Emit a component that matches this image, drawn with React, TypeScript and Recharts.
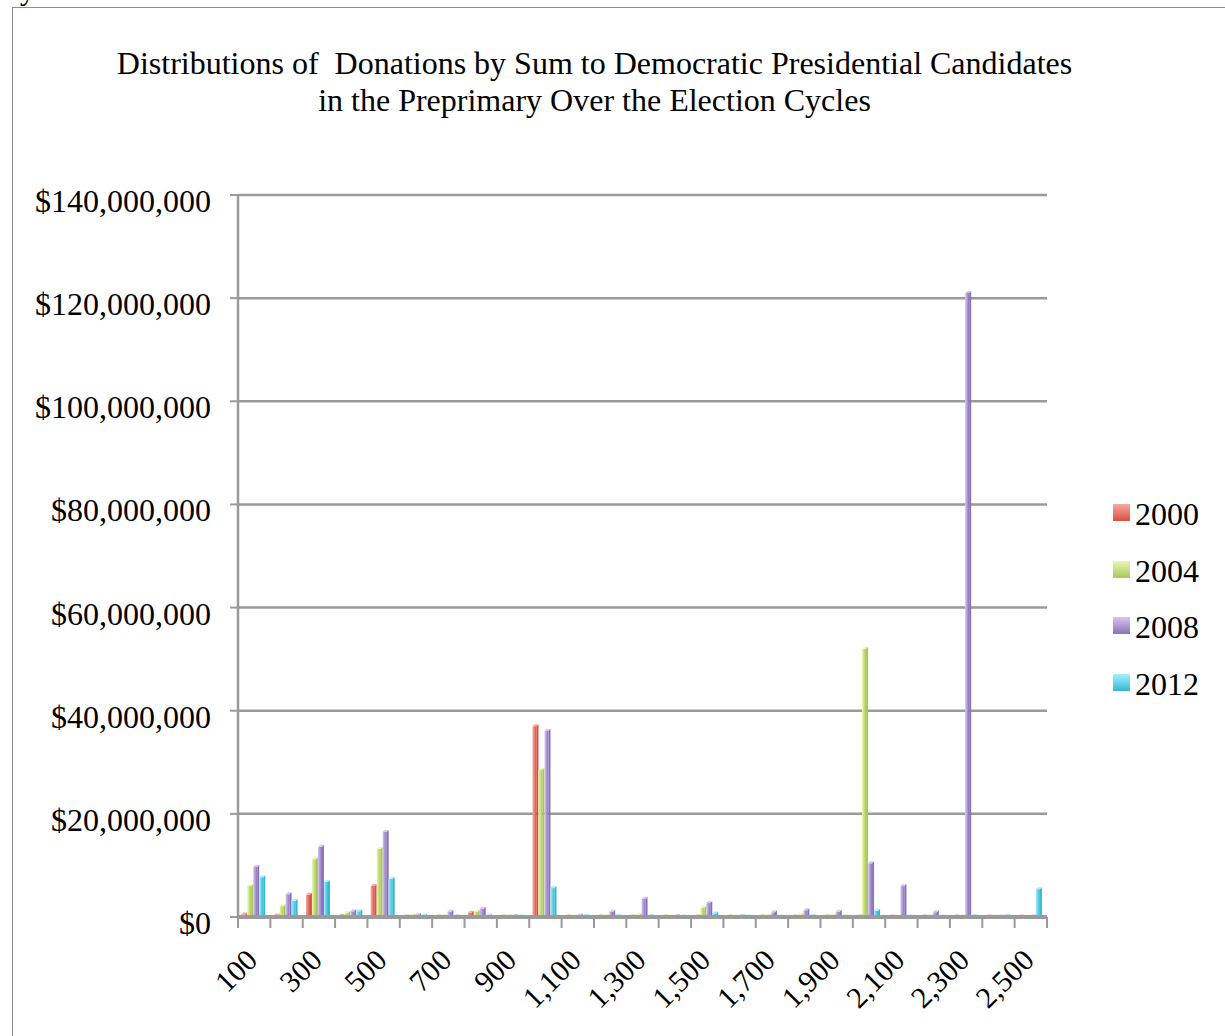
import React from "react";
import { BarChart, Bar, XAxis, YAxis, CartesianGrid } from "recharts";

// donation sum buckets ($)
const buckets = [
  100, 200, 300, 400, 500, 600, 700, 800, 900, 1000, 1100, 1200, 1300,
  1400, 1500, 1600, 1700, 1800, 1900, 2000, 2100, 2200, 2300, 2400, 2500,
];

// totals per bucket, in millions of dollars
const cycle2000 = [
  0.5, 0.3, 4.3, 0.2, 6.0, 0.1, 0.1, 0.8, 0.1, 37.0, 0.05, 0, 0, 0, 0, 0,
  0, 0, 0, 0, 0, 0, 0, 0, 0,
];
const cycle2004 = [
  6.0, 2.1, 11.2, 0.8, 13.2, 0.3, 0.2, 1.0, 0.2, 28.5, 0.1, 0.2, 0.4, 0.1,
  1.8, 0.1, 0.2, 0.4, 0.3, 52.0, 0.1, 0.1, 0.1, 0, 0,
];
const cycle2008 = [
  9.7, 4.4, 13.6, 1.1, 16.5, 0.4, 1.0, 1.6, 0.2, 36.1, 0.3, 1.0, 3.5, 0.2,
  2.7, 0.2, 0.9, 1.3, 1.0, 10.4, 6.0, 0.9, 121.0, 0.1, 0.1,
];
const cycle2012 = [
  7.7, 3.1, 6.8, 1.1, 7.4, 0.3, 0.2, 0.3, 0.1, 5.6, 0.2, 0.2, 0.2, 0.1,
  0.7, 0.1, 0.1, 0.2, 0.1, 1.2, 0.1, 0.1, 0.2, 0.2, 5.4,
];

const yTicks = [0, 20, 40, 60, 80, 100, 120, 140];

const SERIES = [
  { key: "y2000", name: "2000", values: cycle2000, light: "#f7aaa1", dark: "#d9503f" },
  { key: "y2004", name: "2004", values: cycle2004, light: "#e8f8b0", dark: "#a9c75a" },
  { key: "y2008", name: "2008", values: cycle2008, light: "#d6c6f0", dark: "#8a72bb" },
  { key: "y2012", name: "2012", values: cycle2012, light: "#a8f0fc", dark: "#32b8d3" },
];

const rows = buckets.map((b, i) => {
  const row: Record<string, number> = { bucket: b };
  SERIES.forEach((s) => (row[s.key] = s.values[i]));
  return row;
});

const W = 1225;
const H = 1036;
const MARGIN = { top: 195, right: 178, bottom: 19, left: 0 };
const Y_AXIS_W = 238;
const X_AXIS_H = 100;
const PLOT_W = W - MARGIN.left - MARGIN.right - Y_AXIS_W;
const BAND = PLOT_W / buckets.length;

const FONT = "Liberation Serif, Times New Roman, serif";
const GRID = "#9a9a9a";

const money = (v: number) => "$" + Math.round(v * 1e6).toLocaleString("en-US");

// bucket ticks sit on the boundaries; labels on every other bucket
function BucketTick(props: any) {
  const { x, y, payload, index } = props;
  const left = x - BAND / 2;
  const lastIdx = buckets.length - 1;
  const ax = x + 5;
  const ay = y + 45;
  return (
    <g>
      <line x1={left} x2={left} y1={y} y2={y + 11} stroke={GRID} strokeWidth={2} />
      {index === lastIdx && (
        <line x1={x + BAND / 2} x2={x + BAND / 2} y1={y} y2={y + 11} stroke={GRID} strokeWidth={2} />
      )}
      {index % 2 === 0 && (
        <text
          x={ax}
          y={ay}
          transform={`rotate(-45, ${ax}, ${ay})`}
          textAnchor="end"
          fontFamily={FONT}
          fontSize={30}
          fill="#000"
        >
          {payload.value.toLocaleString("en-US")}
        </text>
      )}
    </g>
  );
}

function MoneyTick(props: any) {
  const { x, y, payload } = props;
  return (
    <text x={x} y={y} dy={17} textAnchor="end" fontFamily={FONT} fontSize={32} fill="#000">
      {money(payload.value)}
    </text>
  );
}

// flat bar with a thin side and top face
function Bar3D(props: any) {
  const { x, y, width, height, light, dark, gid } = props;
  if (width == null || height == null || height < 0) return null;
  const d = 2;
  const w = width - d;
  const h = Math.max(height, 0.6);
  const top = y + height - h;
  return (
    <g>
      <rect x={x} y={top} width={w} height={h} fill={`url(#${gid})`} />
      <polygon
        points={`${x + w},${top} ${x + w + d},${top - d} ${x + w + d},${top + h - d} ${x + w},${top + h}`}
        fill={dark}
      />
      <polygon
        points={`${x},${top} ${x + d},${top - d} ${x + w + d},${top - d} ${x + w},${top}`}
        fill={light}
      />
    </g>
  );
}

export default function App() {
  return (
    <div
      style={{
        position: "absolute",
        left: 0,
        top: 0,
        width: W,
        height: H,
        overflow: "hidden",
        background: "#fff",
        fontFamily: FONT,
      }}
    >
      <div style={{ position: "absolute", left: 0, top: -25, fontSize: 30, lineHeight: "30px" }}>Cycles</div>
      <div
        style={{
          position: "absolute",
          left: 12,
          top: 7,
          width: W + 50,
          height: H + 50,
          border: "1.5px solid #8c8c8c",
        }}
      />
      <div
        style={{
          position: "absolute",
          left: 0,
          top: 45,
          width: 1189,
          textAlign: "center",
          fontSize: 32,
          lineHeight: "37px",
          color: "#000",
        }}
      >
        Distributions of&nbsp; Donations by Sum to Democratic Presidential Candidates
        <br />
        in the Preprimary Over the Election Cycles
      </div>

      <div style={{ position: "absolute", left: 0, top: 0 }}>
        <BarChart
          width={W}
          height={H}
          data={rows}
          margin={MARGIN}
          barCategoryGap="10%"
          barGap={0}
        >
          <defs>
            {SERIES.map((s) => (
              <linearGradient key={s.key} id={`g${s.key}`} x1="0" y1="0" x2="1" y2="0">
                <stop offset="0%" stopColor={s.light} />
                <stop offset="100%" stopColor={s.dark} />
              </linearGradient>
            ))}
          </defs>
          <CartesianGrid vertical={false} stroke={GRID} strokeWidth={2.5} />
          <XAxis
            dataKey="bucket"
            interval={0}
            height={X_AXIS_H}
            tickSize={0}
            tickMargin={0}
            tickLine={false}
            axisLine={{ stroke: GRID, strokeWidth: 4 }}
            tick={<BucketTick />}
          />
          <YAxis
            domain={[0, 140]}
            ticks={yTicks}
            width={Y_AXIS_W}
            tickSize={8}
            tickMargin={19}
            tickLine={{ stroke: GRID, strokeWidth: 2 }}
            axisLine={{ stroke: GRID, strokeWidth: 2.5 }}
            tick={<MoneyTick />}
          />
          {SERIES.map((s) => (
            <Bar
              key={s.key}
              dataKey={s.key}
              name={s.name}
              fill={s.dark}
              isAnimationActive={false}
              shape={(p: any) => <Bar3D {...p} light={s.light} dark={s.dark} gid={`g${s.key}`} />}
            />
          ))}
        </BarChart>
      </div>

      {SERIES.map((s, i) => (
        <div key={s.key}>
          <div
            style={{
              position: "absolute",
              left: 1113,
              top: 504 + i * 56.7,
              width: 17,
              height: 17,
              background: `linear-gradient(${s.light}, ${s.dark})`,
            }}
          />
          <div
            style={{
              position: "absolute",
              left: 1135,
              top: 499 + i * 56.7,
              fontSize: 32,
              lineHeight: "30px",
              color: "#000",
            }}
          >
            {s.name}
          </div>
        </div>
      ))}
    </div>
  );
}
